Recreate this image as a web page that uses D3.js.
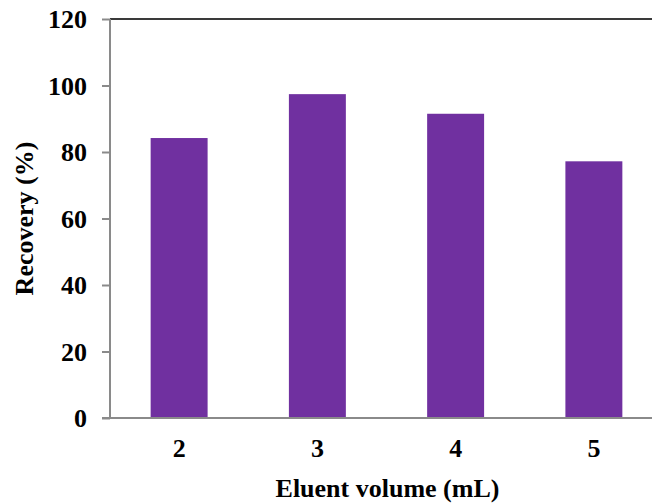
<!DOCTYPE html>
<html><head><meta charset="utf-8">
<script src="https://cdn.jsdelivr.net/npm/d3@7/dist/d3.min.js"></script>
<style>body{margin:0;background:#fff}svg{display:block}text{font-family:"Liberation Serif","Times New Roman",serif;font-weight:bold;fill:#000}</style>
</head><body>
<script>
const categories = ["2","3","4","5"];
const recovery = [84.2, 97.4, 91.5, 77.2];
const yTicks = [0,20,40,60,80,100,120];

const W = 652, H = 503;
const svg = d3.select("body").append("svg").attr("width", W).attr("height", H);
const mLeft = 110, mRight = 663, mTop = 19, mBottom = 418;

const x = d3.scaleBand().domain(categories).range([mLeft, mRight]).paddingInner(0.588).paddingOuter(0.294);
const y = d3.scaleLinear().domain([0,120]).range([mBottom, mTop]);

// bars
svg.selectAll("rect.bar").data(categories).enter().append("rect")
  .attr("class","bar")
  .attr("x", d => x(d)).attr("width", x.bandwidth())
  .attr("y", (d,i) => y(recovery[i])).attr("height", (d,i) => y(0) - y(recovery[i]))
  .attr("fill", "#7030A0");

// top border
svg.append("line").attr("x1", mLeft).attr("x2", W).attr("y1", mTop).attr("y2", mTop)
  .attr("stroke", "#3a3a3a").attr("stroke-width", 2);

// y axis
const yAxis = svg.append("g").attr("transform", `translate(${mLeft},0)`)
  .call(d3.axisLeft(y).tickValues(yTicks).tickSize(8).tickPadding(15).tickFormat(d3.format("d")));
yAxis.select(".domain").attr("stroke", "#8a8a8a").attr("stroke-width", 2).attr("d", `M0,${mTop}V${mBottom}`);
yAxis.selectAll(".tick line").attr("stroke", "#8a8a8a").attr("stroke-width", 2);
yAxis.selectAll(".tick text").style("font-size", "26px").attr("dy", "0.34em");

// x axis
const xAxis = svg.append("g").attr("transform", `translate(0,${mBottom})`)
  .call(d3.axisBottom(x).tickSize(0).tickPadding(21));
xAxis.select(".domain").attr("stroke", "#8a8a8a").attr("stroke-width", 2).attr("d", `M${mLeft - 8},0H${W}`);
xAxis.selectAll(".tick text").style("font-size", "26px");

// axis titles
svg.append("text").attr("x", (mLeft + mRight) / 2 + 1).attr("y", 497).attr("text-anchor", "middle")
  .style("font-size", "26px").text("Eluent volume (mL)");
svg.append("text").attr("transform", `translate(33,${(mTop + mBottom) / 2}) rotate(-90)`).attr("text-anchor", "middle")
  .style("font-size", "26px").text("Recovery (%)");
</script>
</body></html>
